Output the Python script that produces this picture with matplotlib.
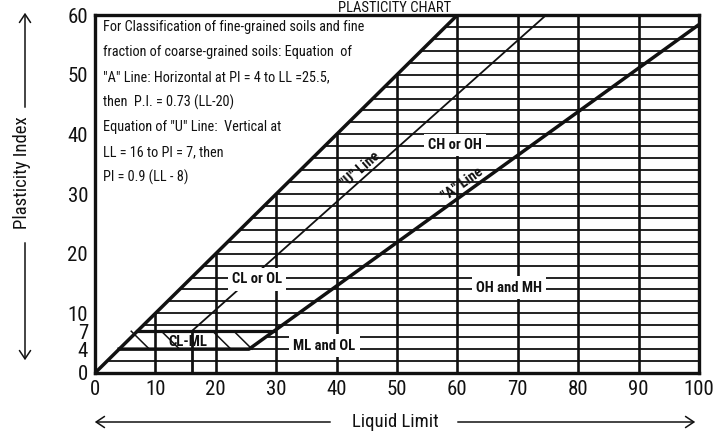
import numpy as np
import matplotlib
matplotlib.use("Agg")
import matplotlib.pyplot as plt
from matplotlib import font_manager
from matplotlib.patches import FancyArrowPatch

# ---------------- data ----------------
ll_ticks = [0, 10, 20, 30, 40, 50, 60, 70, 80, 90, 100]
pi_ticks = [0, 4, 7, 10, 20, 30, 40, 50, 60]

upper_ll = [0, 60]          # PI = LL limit line
upper_pi = [0, 60]
a_line_ll = [4, 25.5, 100]  # "A" line
a_line_pi = [4, 4, 58.4]
u_vert_ll = [16, 16]        # "U" line vertical part
u_vert_pi = [0, 7]
u_line_ll = [16, 74.7]      # "U" line sloped part
u_line_pi = [7, 60]
pi7_ll = [7, 29.6]          # CL-ML upper bound
pi7_pi = [7, 7]
hatch_pi = list(range(2, 60, 2))
grid_ll = list(range(10, 100, 10))
clml_hatch_ll = [6, 11, 19.5, 23]

zone_names = ["CL or OL", "CH or OH", "OH and MH", "ML and OL", "CL-ML"]
zone_ll = [26.8, 59.6, 68.5, 38.0, 15.3]
zone_pi = [15.7, 38.2, 14.3, 4.6, 5.2]

note_lines = [
    "For Classification of fine-grained soils and fine",
    "fraction of coarse-grained soils: Equation  of",
    "\"A\" Line: Horizontal at PI = 4 to LL =25.5,",
    "then  P.I. = 0.73 (LL-20)",
    "Equation of \"U\" Line:  Vertical at",
    "LL = 16 to PI = 7, then",
    "PI = 0.9 (LL - 8)",
]

installed = {f.name for f in font_manager.fontManager.ttflist}
narrow = next((n for n in ["Liberation Sans Narrow", "Roboto Condensed",
                           "Open Sans Condensed", "Noto Sans Condensed"]
               if n in installed), None)
FONT = ([narrow] if narrow else []) + ["Liberation Sans", "DejaVu Sans"]
plt.rcParams['font.family'] = FONT
K = "#111111"

note_size = 10.3 if narrow else 9.0
zone_size = 10.5 if narrow else 9.5

fig = plt.figure(figsize=(7.26, 4.33), dpi=100)
ax = fig.add_axes([95/726, 60/433, 604/726, 358/433])
ax.set_xlim(0, 100)
ax.set_ylim(0, 60)

# horizontal hatch lines, right of the PI = LL line
for p in hatch_pi:
    start = p
    if p == 6:
        start = 20 + 6/0.73
    ax.plot([start, 100], [p, p], color=K, lw=1.3, solid_capstyle='butt', zorder=1)

# vertical grid lines below the PI = LL line
for l in grid_ll:
    ax.plot([l, l], [0, min(l, 60)], color=K, lw=1.9, solid_capstyle='butt', zorder=1)

# CL-ML diagonal hatch
for s in clml_hatch_ll:
    ax.plot([s, s + 3], [7, 4], color=K, lw=1.1, zorder=2)

ax.plot(upper_ll, upper_pi, color=K, lw=2.5, zorder=3)
ax.plot(a_line_ll, a_line_pi, color=K, lw=2.5, zorder=3)
ax.plot(pi7_ll, pi7_pi, color=K, lw=2.3, zorder=3)
ax.plot(u_vert_ll, u_vert_pi, color=K, lw=2.0, zorder=3)
ax.plot(u_line_ll, u_line_pi, color=K, lw=1.3, zorder=3)

for sp in ax.spines.values():
    sp.set_linewidth(2.4)
    sp.set_color(K)

ax.set_xticks(ll_ticks)
ax.set_yticks(pi_ticks)
ax.tick_params(length=0, labelsize=15, pad=5, colors=K)

# zone labels
for name, x, y in zip(zone_names, zone_ll, zone_pi):
    bb = dict(facecolor='white', edgecolor='none', pad=3) if name != "CL-ML" else None
    ax.text(x, y, name, ha='center', va='center', fontsize=zone_size, color=K,
            fontweight='bold', bbox=bb, zorder=5)

ax.text(44.0, 34.0, "\"U\" Line", ha='center', va='center', fontsize=zone_size, color=K,
        fontweight='bold', rotation=np.degrees(np.arctan(0.9)),
        transform_rotates_text=True, rotation_mode='anchor', zorder=5)
ax.text(60.8, 31.6, "\"A\" Line", ha='center', va='center', fontsize=zone_size, color=K,
        fontweight='bold', rotation=np.degrees(np.arctan(0.73)),
        transform_rotates_text=True, rotation_mode='anchor', zorder=5)

# note text
for i, line in enumerate(note_lines):
    ypx = 27 + 25 * i
    fig.text(103/726, 1 - ypx/433, line, ha='left', va='center', fontsize=note_size,
             color=K)

# title in the thin strip above the chart
fig.text(395/726, 1 - 12/433, "PLASTICITY CHART", ha='center', va='baseline',
         fontsize=10.5, color=K)

# axis labels with arrows
AS = '->,head_length=6,head_width=4'
fig.text(22/726, 1 - 173/433, "Plasticity Index", rotation=90, ha='center',
         va='center', fontsize=13.5, color=K)
fig.add_artist(FancyArrowPatch((25/726, 1 - 110/433), (25/726, 1 - 10/433),
               transform=fig.transFigure, arrowstyle=AS, lw=1.1, color=K))
fig.add_artist(FancyArrowPatch((25/726, 1 - 240/433), (25/726, 1 - 363/433),
               transform=fig.transFigure, arrowstyle=AS, lw=1.1, color=K))

fig.text(395/726, 1 - 422/433, "Liquid Limit", ha='center', va='center',
         fontsize=13.5, color=K)
fig.add_artist(FancyArrowPatch((333/726, 1 - 422/433), (92/726, 1 - 422/433),
               transform=fig.transFigure, arrowstyle=AS, lw=1.1, color=K))
fig.add_artist(FancyArrowPatch((455/726, 1 - 422/433), (698/726, 1 - 422/433),
               transform=fig.transFigure, arrowstyle=AS, lw=1.1, color=K))

fig.savefig("out.png", dpi=100, facecolor='white')
